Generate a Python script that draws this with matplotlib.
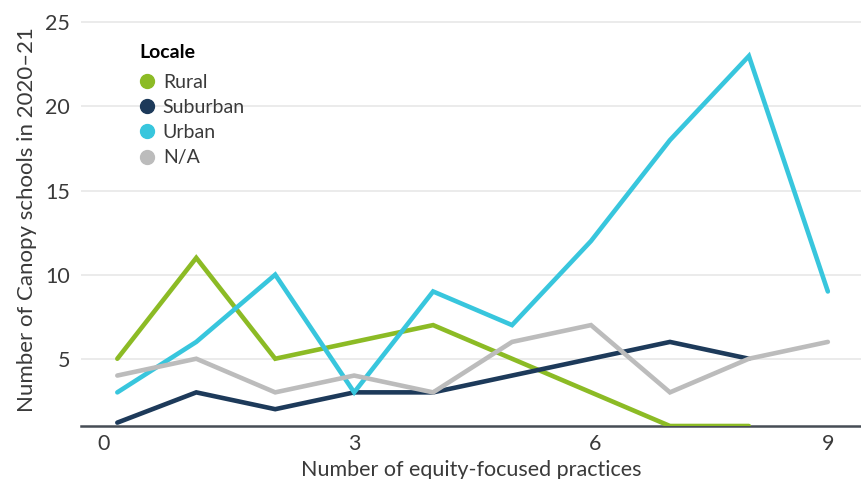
import matplotlib
matplotlib.use("Agg")
from matplotlib import pyplot as plt
from matplotlib.lines import Line2D
from matplotlib.transforms import ScaledTranslation

# data
practices = list(range(10))
rural = [5, 11, 5, 6, 7, 5, 3, 1, 1]
suburban = [1.2, 3, 2, 3, 3, 4, 5, 6, 5]
urban = [3, 6, 10, 3, 9, 7, 12, 18, 23, 9]
na = [4, 5, 3, 4, 3, 6, 7, 3, 5, 6]

series = [
    ("Rural", rural, "#8cbb25"),
    ("Suburban", suburban, "#1d3a5a"),
    ("Urban", urban, "#38c6dd"),
    ("N/A", na, "#bcbcbc"),
]
y_ticks = [5, 10, 15, 20, 25]
x_ticks = [0, 3, 6, 9]

plt.rcParams["font.family"] = ["Lato", "DejaVu Sans"]
text_color = "#3a3a3a"

fig = plt.figure(figsize=(8.61, 4.79), dpi=100)
ax = fig.add_axes([81 / 861, 1 - 426 / 479, (861 - 81) / 861, (426 - 14) / 479])

for name, values, color in series:
    ax.plot(practices[:len(values)], values, color=color, lw=3.3,
            solid_capstyle="round", solid_joinstyle="miter", label=name, zorder=3)

ax.set_xlim(-0.46, 9.42)
ax.set_ylim(1, 25.5)
ax.set_yticks(y_ticks)
ax.set_xticks(x_ticks)
ax.grid(axis="y", color="#e8e8e8", lw=1.2, zorder=0)
ax.tick_params(axis="both", length=0, labelsize=15.5, labelcolor=text_color)
ax.tick_params(axis="y", pad=8)
ax.tick_params(axis="x", pad=6)
for side in ("top", "right", "left"):
    ax.spines[side].set_visible(False)
ax.spines["bottom"].set_color("#474d55")
ax.spines["bottom"].set_linewidth(1.8)

# nudge the end labels like the reference does
shifts = {0: -14, 6: 4}
for val, lab in zip(x_ticks, ax.get_xticklabels()):
    if val in shifts:
        lab.set_transform(lab.get_transform() + ScaledTranslation(shifts[val] / 100, 0, fig.dpi_scale_trans))

ax.set_xlabel("Number of equity-focused practices", fontsize=15.5, color=text_color, labelpad=4)
ax.set_ylabel("Number of Canopy schools in 2020\u201321", fontsize=16, color=text_color, labelpad=6)

handles = [Line2D([], [], marker="o", ls="none", color=c, markersize=10) for _, _, c in series]
leg = ax.legend(handles, [s[0] for s in series], title="Locale", loc="upper left",
                bbox_to_anchor=(0.065, 0.945), frameon=False, fontsize=14,
                handlelength=0.8, handletextpad=0.4, labelspacing=0.42, borderaxespad=0,
                title_fontproperties={"weight": "bold", "size": 14})
leg._legend_box.align = "left"
leg._legend_box.sep = 9
for t in leg.get_texts():
    t.set_color(text_color)

fig.savefig("out.png", dpi=100)
